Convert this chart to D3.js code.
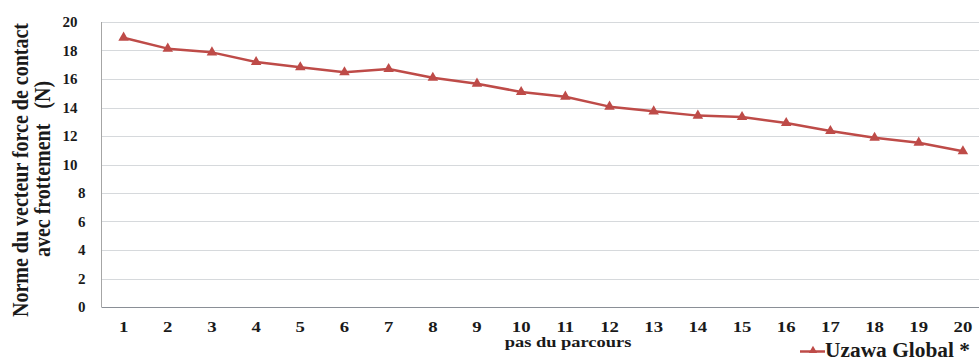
<!DOCTYPE html>
<html>
<head>
<meta charset="utf-8">
<script src="https://cdn.jsdelivr.net/npm/d3@7"></script>
<style>
  html, body { margin: 0; padding: 0; background: #fff; }
  svg { display: block; }
  svg text { font-family: 'Liberation Serif', serif !important; font-weight: 700; fill: #1a1a1a; }
</style>
</head>
<body>
<svg id="chart" width="979" height="361"></svg>
<script>
const steps = [1,2,3,4,5,6,7,8,9,10,11,12,13,14,15,16,17,18,19,20];
const uzawaGlobal = [18.9,18.13,17.87,17.19,16.82,16.47,16.7,16.09,15.67,15.09,14.76,14.06,13.73,13.43,13.33,12.91,12.35,11.88,11.53,10.93];
const yTicks = [0,2,4,6,8,10,12,14,16,18,20];
const seriesName = "Uzawa Global *";
const xTitle = "pas du parcours";
const yTitle1 = "Norme du vecteur force de contact";
const yTitle2 = "avec frottement   (N)";

const svg = d3.select("#chart");
const W = 979, H = 361;
const pLeft = 101.5, pRight = 985, pTop = 22, pBottom = 307;
const color = "#be4b48";

const x = d3.scaleBand().domain(steps).range([pLeft, pRight]);
const y = d3.scaleLinear().domain([0, 20]).range([pBottom, pTop]);

// gridlines
svg.append("g").selectAll("line").data(yTicks.filter(d => d > 0)).join("line")
  .attr("x1", pLeft).attr("x2", W)
  .attr("y1", d => Math.round(y(d)) + 0.5).attr("y2", d => Math.round(y(d)) + 0.5)
  .attr("stroke", "#d6d9dc").attr("stroke-width", 1.2);

// y axis line
svg.append("line").attr("x1", pLeft).attr("x2", pLeft).attr("y1", pTop).attr("y2", pBottom)
  .attr("stroke", "#a6a6a6").attr("stroke-width", 1);
// x axis line
svg.append("line").attr("x1", pLeft).attr("x2", W).attr("y1", pBottom + 0.5).attr("y2", pBottom + 0.5)
  .attr("stroke", "#8a8f96").attr("stroke-width", 1.2);

// y tick labels
const yAxis = d3.axisLeft(y).tickValues(yTicks).tickSize(0).tickPadding(16).tickFormat(d3.format("d"));
const gy = svg.append("g").attr("transform", `translate(${pLeft},0)`).call(yAxis);
gy.select(".domain").remove();
gy.selectAll("text").attr("font-size", 15).attr("fill", "#1a1a1a")
  .attr("dx", d => d >= 10 ? -8 : 0);

// x tick labels (slightly wide glyphs as in the reference)
const xAxis = d3.axisBottom(x).tickSize(0).tickPadding(14);
const gx = svg.append("g").attr("transform", `translate(0,${pBottom})`).call(xAxis);
gx.select(".domain").remove();
gx.selectAll("text").attr("font-size", 15).attr("fill", "#1a1a1a")
  .attr("transform", "scale(1.25,1)");

// line
const cx = d => x(d) + x.bandwidth() / 2;
const line = d3.line().x((d, i) => cx(steps[i])).y(d => y(d));
svg.append("path").datum(uzawaGlobal).attr("d", line)
  .attr("fill", "none").attr("stroke", color).attr("stroke-width", 2.5).attr("stroke-linejoin", "round");

const tri = d3.symbol().type(d3.symbolTriangle).size(48);
svg.append("g").selectAll("path").data(uzawaGlobal).join("path")
  .attr("d", tri).attr("fill", color)
  .attr("transform", (d, i) => `translate(${cx(steps[i])},${y(d)})`);

// x title
svg.append("g").attr("transform", "translate(568,347) scale(1.23,1)")
  .append("text").attr("text-anchor", "middle").attr("font-size", 15).text(xTitle);

// y title
svg.append("g").attr("transform", "translate(28,170) rotate(-90) scale(1,1.2)")
  .append("text").attr("text-anchor", "middle").attr("font-size", 20).text(yTitle1);
svg.append("g").attr("transform", "translate(50,169) rotate(-90) scale(1,1.2)")
  .append("text").attr("text-anchor", "middle").attr("font-size", 20)
  .style("white-space", "pre").text(yTitle2);

// legend
const lg = svg.append("g");
lg.append("line").attr("x1", 800).attr("x2", 825).attr("y1", 351.5).attr("y2", 351.5)
  .attr("stroke", color).attr("stroke-width", 2.5);
lg.append("path").attr("d", d3.symbol().type(d3.symbolTriangle).size(30)).attr("fill", color)
  .attr("transform", "translate(813,350.5)");
lg.append("text").attr("x", 825).attr("y", 356.5).attr("font-size", 20)
  .attr("textLength", 145).attr("lengthAdjust", "spacingAndGlyphs").text(seriesName);
</script>
</body>
</html>
